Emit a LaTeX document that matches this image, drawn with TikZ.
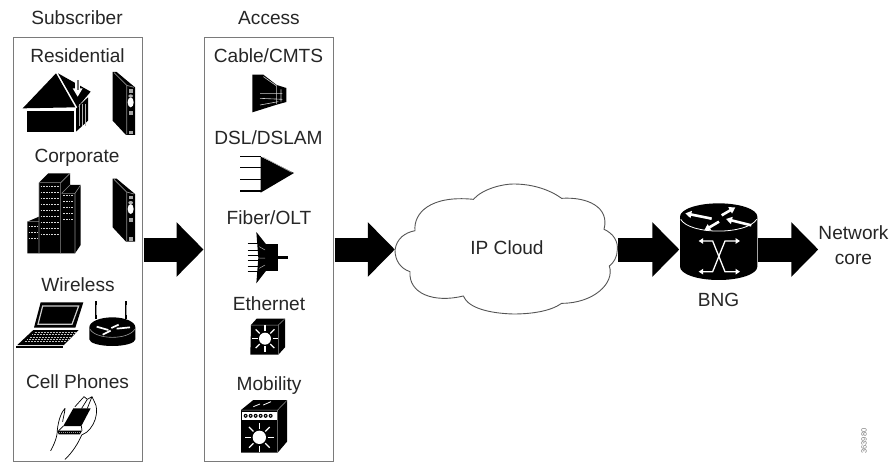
\documentclass[tikz,border=0pt]{standalone}
\usepackage{fontspec}
\setmainfont{Liberation Sans}
\usetikzlibrary{arrows.meta}
\definecolor{ink}{HTML}{262626}
\definecolor{rim}{HTML}{7A7A7A}
\tikzset{
  x=1pt,y=-1pt,
  lbl/.style={anchor=base,inner sep=0pt,text=ink,font=\fontsize{19.1}{25}\selectfont},
  panel/.style={draw=rim,line width=1pt,fill=white,minimum width=129.5pt,minimum height=424.5pt,inner sep=0pt},
  ghost/.style={inner sep=0pt},
  blockarrow/.style={line width=24pt,black,-{Triangle[width=53pt,length=27pt]},shorten <=0.5pt},
  zoomed/.style={x=0.33333pt,y=-0.33333pt},
  wl/.style={white,line width=0.9pt},
  winrow/.style={black!15,line width=1.1pt,dash pattern=on 1.7pt off 1pt},
}
\newcommand{\modemicon}{%
  \fill (338,216) -- (350,216) -- (405,262) -- (405,405) -- (378,405) -- (338,362) -- cycle;
  \draw[black!45,line width=0.7pt] (342,218) -- (380,256) -- (402,262) (380,256) -- (380,403);
  \fill[black!35] (388,268) rectangle (398,278);
  \fill[black!35] (388,334) rectangle (398,346);
  \fill[black!35] (388,392) rectangle (398,402);
  \fill[white] (392,307) ellipse (9 and 15);
  \fill[black!30] (392,288) ellipse (7 and 5);
}
\newcommand{\sunicon}[3]{% centre x, y, radius
  \fill[white] (#1,#2) circle (#3);
  \foreach \a in {0,45,...,315}{\draw[white,line width=1.2pt] (#1,#2) ++(\a:1.25*#3) -- ++(\a:0.95*#3);}
}
\begin{document}
\begin{tikzpicture}
\useasboundingbox (0,0) rectangle (890,462);
\fill[white] (0,0) rectangle (890,462);
% panels
\node[panel] (subbox) at (77.75,249.5) {};
\node[panel] (accbox) at (268.75,249.5) {};
% labels
\node[lbl] (tsub) at (77,25) {Subscriber};
\node[lbl] (tres) at (77.5,63) {Residential};
\node[lbl] (tcor) at (77,163) {Corporate};
\node[lbl] (twir) at (78,291) {Wireless};
\node[lbl] (tcel) at (77.5,388) {Cell Phones};
\node[lbl] (tacc) at (269,25) {Access};
\node[lbl] (tcab) at (268.5,63) {Cable/CMTS};
\node[lbl] (tdsl) at (268.5,145) {DSL/DSLAM};
\node[lbl] (tfib) at (269,224) {Fiber/OLT};
\node[lbl] (teth) at (269,310) {Ethernet};
\node[lbl] (tmob) at (269,390) {Mobility};
% cloud
\begin{scope}[xshift=380pt,yshift=-170pt,zoomed]
\draw[rim!70!black,line width=0.9pt,fill=white] (45,240) .. controls (50,205) and (75,188) .. (105,182)
 .. controls (100,130) and (150,75) .. (280,88)
 .. controls (310,55) and (370,42) .. (400,42)
 .. controls (460,42) and (510,60) .. (545,85)
 .. controls (620,80) and (690,110) .. (672,178)
 .. controls (700,190) and (715,215) .. (712,240)
 .. controls (712,260) and (700,280) .. (688,288)
 .. controls (705,340) and (640,400) .. (545,400)
 .. controls (510,425) and (450,432) .. (400,432)
 .. controls (330,430) and (265,415) .. (250,378)
 .. controls (160,400) and (85,370) .. (90,305)
 .. controls (60,295) and (45,270) .. (45,240) -- cycle;
\end{scope}
\node[ghost,minimum width=222pt,minimum height=130pt] (cloud) at (506,249.5) {};
\node[lbl] (tcloud) at (507,254) {IP Cloud};
% BNG
\begin{scope}[xshift=610pt,yshift=-170pt,zoomed]
\fill (210,140) -- (210,290) arc[start angle=180,end angle=360,x radius=116,y radius=-40] -- (442,140)
  arc[start angle=0,end angle=180,x radius=116,y radius=-40] -- cycle;
\draw[white,line width=0.8pt] (212,148) .. controls (240,195) and (410,195) .. (440,148);
\begin{scope}[white,line width=2.6pt,-{Triangle[width=7pt,length=6pt]}]
\draw (305,146) -- (226,130);
\draw (335,136) -- (376,112);
\draw (424,166) -- (348,147);
\draw (327,155) -- (283,181);
\end{scope}
\begin{scope}[white,line width=1.3pt,{Triangle[width=5.5pt,length=4.5pt]}-{Triangle[width=5.5pt,length=4.5pt]}]
\draw (266,213) -- (308,213) -- (345,305) -- (390,305);
\draw (390,213) -- (345,213) -- (308,305) -- (266,305);
\end{scope}
\end{scope}
\node[ghost,minimum width=78pt,minimum height=78pt] (bng) at (718.5,249.5) {};
\node[lbl] (tbng) at (718.5,306) {BNG};
\node[ghost,align=center,text=ink,font=\fontsize{19.1}{25}\selectfont] (core) at (853.5,245) {Network\\core};
\node[ghost,rotate=90,text=rim,font=\fontsize{7.5}{9}\selectfont] (stamp) at (864,441) {363980};
% block arrows
\draw[blockarrow] (subbox.east) -- (accbox.west);
\draw[blockarrow] (accbox.east) -- (cloud.west);
\draw[blockarrow] (cloud.east) -- (bng.west);
\draw[blockarrow] (bng.east) -- (bng.east -| core.west);
% subscriber icons
\begin{scope}[zoomed]
% house
\fill (68,325) -- (168,220) -- (226,322) -- cycle;
\fill (174,220) -- (272,275) -- (232,322) -- cycle;
\fill (80,332) rectangle (222,395);
\fill (228,326) -- (264,292) -- (264,362) -- (228,395) -- cycle;
\foreach \x in {238,248,256}{\draw[black!30,line width=0.6pt] (\x,312) -- (\x,378);}
\fill[white] (225,238) rectangle (241,268);
\fill[white] (218,265) -- (248,265) -- (233,290) -- cycle;
\fill[black!55] (230,240) rectangle (236,270);
\modemicon
\begin{scope}[yshift=-106.67pt]\modemicon\end{scope}
% building
\fill (117,548) -- (145,520) -- (210,520) -- (210,555) -- (242,555) -- (242,735) -- (225,760) -- (82,760) -- (82,665) -- (117,650) -- cycle;
\foreach \yy in {560,578,596,614,632,650,668,686,704}{
  \draw[winrow] (122,\yy) -- (178,\yy);}
\foreach \yy in {587,605,623,641,659}{
  \draw[winrow] (190,\yy) -- (221,\yy);}
\foreach \yy in {680,698,716}{
  \draw[winrow] (86,\yy) -- (112,\yy);}
\draw[black!45,line width=0.6pt] (117,548) -- (182,548) -- (182,760) (182,548) -- (210,520) (185,580) -- (225,580) -- (242,555) (225,580) -- (225,760) (185,580) -- (210,555) (117,548) -- (117,760) (82,665) -- (115,665);
\end{scope}
\begin{scope}[yshift=-240pt,zoomed]
% laptop
\fill (122,187) -- (250,187) -- (226,263) -- (102,263) -- cycle;
\draw[black!20,line width=1.2pt] (128,198) -- (236,198) -- (216,253) -- (114,253) -- cycle;
\fill (100,270) -- (236,270) -- (192,315) -- (52,315) -- cycle;
\foreach \yy in {277,284,291,298,305}{\draw[black!25,line width=1pt,dash pattern=on 0.9pt off 0.6pt] (\yy*-1.05+395,\yy) -- (\yy*-1.05+520,\yy);}
\fill (48,318) rectangle (190,325);
% wireless router
\fill (268,262) -- (268,298) arc[start angle=180,end angle=360,x radius=69,y radius=-20] -- (406,262) arc[start angle=0,end angle=180,x radius=69,y radius=-30] -- cycle;
\draw[black!40,line width=0.6pt] (270,268) .. controls (290,300) and (385,300) .. (404,268);
\draw[line width=2.8pt] (288,184) -- (288,236) (378,184) -- (378,236);
\draw[black!40,line width=0.7pt] (288,196) -- (288,226) (378,196) -- (378,226);
\draw[white,line width=1.7pt] (290,260) -- (325,270) (356,254) -- (334,264) (350,266) -- (390,262) (332,272) -- (308,284);
% hand and phone
\fill (220,505) -- (272,505) -- (244,558) -- (190,558) -- cycle;
\fill (172,572) -- (246,572) -- (240,583) -- (176,583) -- cycle;
\draw[black!40,line width=0.6pt,dash pattern=on 1pt off 1pt] (178,577) -- (240,577);
\draw[line width=0.7pt] (190,558) -- (176,572) (244,558) -- (246,572);
\draw[line width=0.7pt,line join=round,line cap=round] (152,632) .. controls (170,600) and (172,580) .. (172,570)
 .. controls (175,540) and (185,515) .. (195,505) .. controls (195,515) and (190,530) .. (188,545)
 (225,500) -- (252,470) -- (262,478) -- (276,470) -- (283,485) .. controls (300,510) and (285,570) .. (245,585)
 .. controls (235,610) and (215,640) .. (195,658)
 (262,478) -- (245,505) (276,470) -- (262,505);
\end{scope}
% access icons
\begin{scope}[xshift=195pt,zoomed]
% CMTS
\fill (172,224) -- (205,224) -- (245,255) -- (274,264) -- (274,306) -- (245,314) -- (172,337) -- cycle;
\draw[black!20,line width=0.6pt] (195,280) -- (262,280) (195,295) -- (262,298) (195,315) -- (250,305) (205,230) -- (245,258) -- (245,312) (258,268) -- (258,305);
% DSLAM
\fill (197,470) -- (297,519) -- (197,578) -- cycle;
\draw[black!35,line width=0.6pt] (205,472) -- (290,517);
\draw[line width=1.2pt] (135,470) -- (197,470) (135,503) -- (197,503) (135,538) -- (197,538) (135,573) -- (197,573);
\end{scope}
\begin{scope}[xshift=195pt,yshift=-230pt,zoomed]
% OLT
\fill (184,6) -- (215,45) -- (215,120) -- (184,160) -- (190,84) -- cycle;
\fill (212,42) rectangle (250,122);
\fill (250,78) rectangle (278,88);
\foreach \yy/\xe in {40/196,60/200,75/205,92/205,108/200,125/196}{\draw[line width=0.7pt] (158,\yy) -- (\xe,\yy);}
\draw[black!30,line width=0.5pt] (193,50) -- (210,60) (193,84) -- (210,84) (193,115) -- (210,105);
% Ethernet
\fill (168,285) -- (185,266) -- (270,266) -- (270,352) -- (250,374) -- (166,374) -- cycle;
\draw[black!40,line width=0.5pt] (168,285) -- (250,285) -- (250,372) (250,285) -- (268,268);
\sunicon{210}{326}{18}
% Mobility
\fill (138,540) -- (175,510) -- (276,510) -- (276,635) -- (248,668) -- (138,668) -- cycle;
\draw[black!40,line width=0.5pt] (140,540) -- (248,540) -- (248,668) (248,540) -- (275,512);
\draw[white,line width=0.8pt] (205,525) -- (228,515) (175,530) -- (195,522);
\fill[white] (142,545) rectangle (245,570);
\foreach \x in {152,167,182,197,212,227}{\fill (\x,557.5) circle (6);\fill[white] (\x,557.5) circle (2.2);}
\sunicon{193}{622}{20}
\end{scope}
\end{tikzpicture}
\end{document}
